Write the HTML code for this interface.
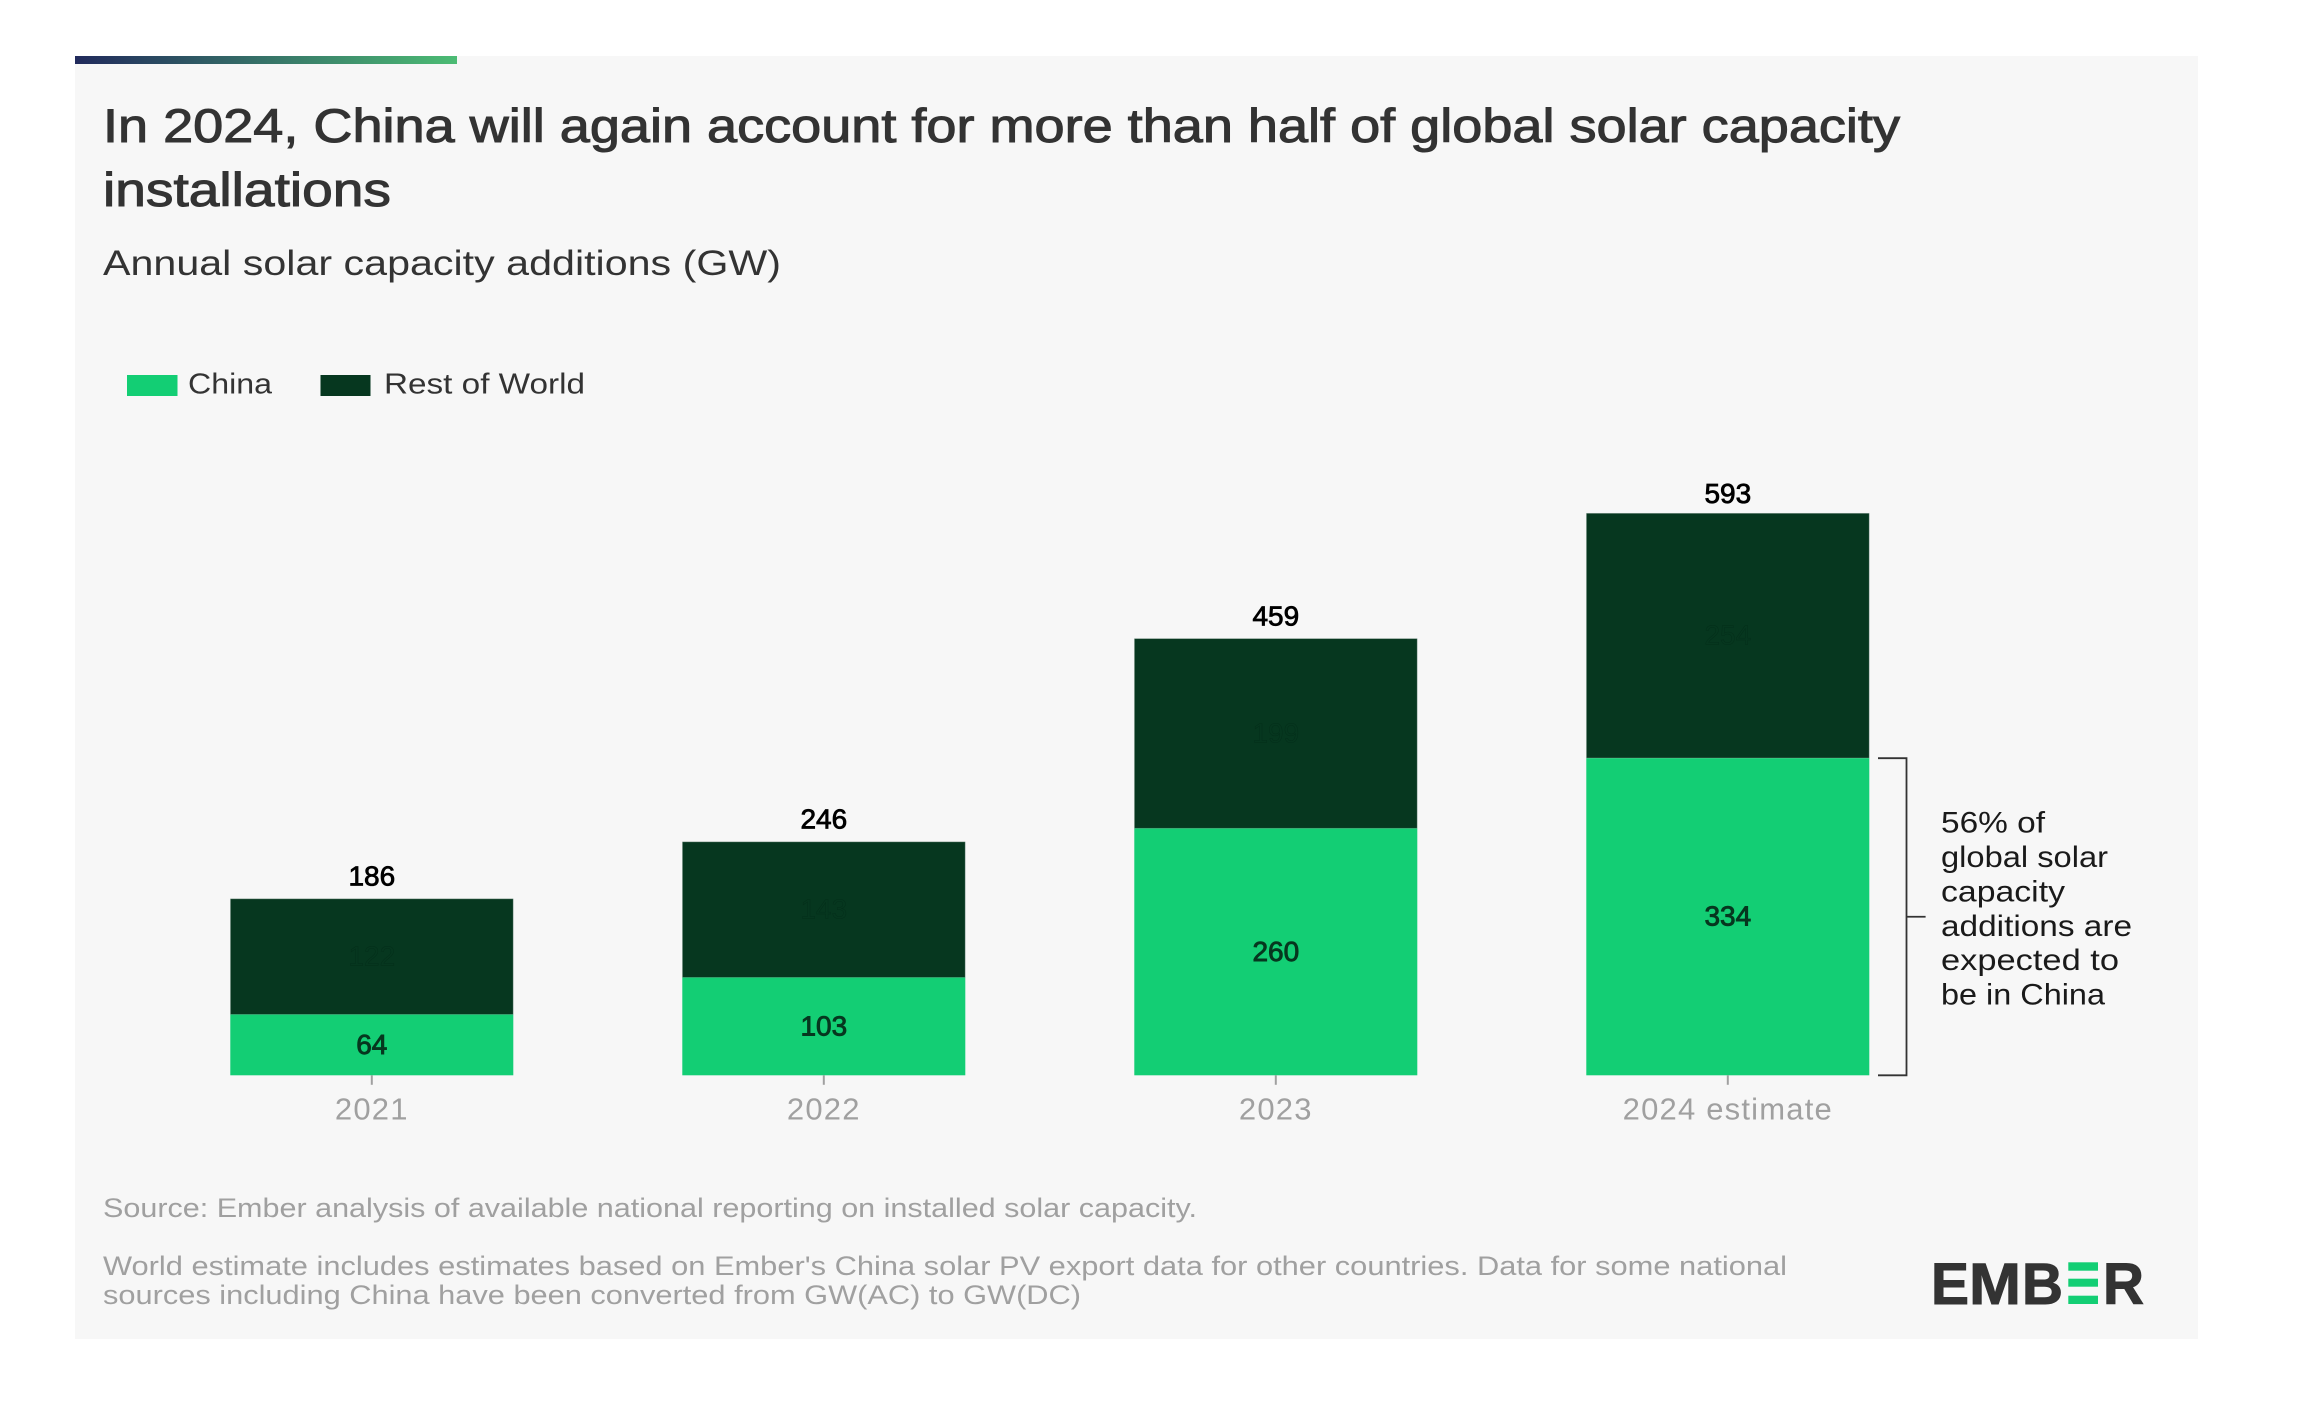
<!DOCTYPE html>
<html lang="en">
<head>
<meta charset="utf-8">
<title>In 2024, China will again account for more than half of global solar capacity installations</title>
<style>
html,body{margin:0;padding:0;background:#fff;}
svg{display:block;font-family:"Liberation Sans",sans-serif;}
</style>
</head>
<body>
<svg id="chart" xmlns="http://www.w3.org/2000/svg" width="2302" height="1422" viewBox="0 0 2302 1422">
  <defs>
    <linearGradient id="accent" x1="0" x2="1" y1="0" y2="0">
      <stop offset="0" stop-color="#212a5c"/>
      <stop offset="1" stop-color="#4cbc74"/>
    </linearGradient>
  </defs>
  <rect x="0" y="0" width="2302" height="1422" fill="#ffffff"/>
  <rect x="75" y="56" width="2123" height="1283" fill="#f7f7f7"/>
  <rect x="75" y="56" width="382" height="8" fill="url(#accent)"/>

  <text x="103" y="142" font-size="47" fill="#333333" stroke="#333333" stroke-width="1" textLength="1797" lengthAdjust="spacingAndGlyphs">In 2024, China will again account for more than half of global solar capacity</text>
  <text x="103" y="206" font-size="47" fill="#333333" stroke="#333333" stroke-width="1" textLength="288" lengthAdjust="spacingAndGlyphs">installations</text>
  <text x="103" y="275" font-size="35" fill="#333333" textLength="678" lengthAdjust="spacingAndGlyphs">Annual solar capacity additions (GW)</text>

  <g>
    <rect x="127" y="375" width="50.5" height="21" fill="#13ce74"/>
    <text x="188" y="393.5" font-size="29" fill="#333333" textLength="84" lengthAdjust="spacingAndGlyphs">China</text>
    <rect x="320.5" y="375" width="50" height="21" fill="#06371f"/>
    <text x="384" y="393.5" font-size="29" fill="#333333" textLength="201" lengthAdjust="spacingAndGlyphs">Rest of World</text>
  </g>

  <g id="plot"></g>

  <g id="annotation">
    <path id="bracket" fill="none" stroke="#333333" stroke-width="1.8"/>
    <g font-size="29.5" fill="#1a1a1a">
      <text x="1941" y="832.7" textLength="104" lengthAdjust="spacingAndGlyphs">56% of</text>
      <text x="1941" y="867" textLength="167" lengthAdjust="spacingAndGlyphs">global solar</text>
      <text x="1941" y="901.5" textLength="124" lengthAdjust="spacingAndGlyphs">capacity</text>
      <text x="1941" y="936" textLength="191" lengthAdjust="spacingAndGlyphs">additions are</text>
      <text x="1941" y="970" textLength="178" lengthAdjust="spacingAndGlyphs">expected to</text>
      <text x="1941" y="1004.5" textLength="164" lengthAdjust="spacingAndGlyphs">be in China</text>
    </g>
  </g>

  <g font-size="27" fill="#a0a0a0">
    <text x="103" y="1217" textLength="1094" lengthAdjust="spacingAndGlyphs">Source: Ember analysis of available national reporting on installed solar capacity.</text>
    <text x="103" y="1275" textLength="1684" lengthAdjust="spacingAndGlyphs">World estimate includes estimates based on Ember's China solar PV export data for other countries. Data for some national</text>
    <text x="103" y="1304" textLength="978" lengthAdjust="spacingAndGlyphs">sources including China have been converted from GW(AC) to GW(DC)</text>
  </g>

  <g font-size="58" font-weight="700" fill="#333333" stroke="#333333" stroke-width="1">
    <text x="1931" y="1304" textLength="38" lengthAdjust="spacingAndGlyphs">E</text>
    <text x="1969" y="1304" textLength="52" lengthAdjust="spacingAndGlyphs">M</text>
    <text x="2022" y="1304" textLength="41" lengthAdjust="spacingAndGlyphs">B</text>
    <rect x="2068.3" y="1262.3" width="29.7" height="8.4" fill="#13ce74" stroke="none"/>
    <rect x="2068.3" y="1278.7" width="29.7" height="8" fill="#13ce74" stroke="none"/>
    <rect x="2068.3" y="1295.7" width="29.7" height="8.3" fill="#13ce74" stroke="none"/>
    <text x="2103" y="1304" textLength="41" lengthAdjust="spacingAndGlyphs">R</text>
  </g>
</svg>

<script>
const categories = ["2021", "2022", "2023", "2024 estimate"];
const chinaValues = [64, 103, 260, 334];
const restValues = [122, 143, 200, 258];
const restLabels = ["122", "143", "199", "254"];
const totalLabels = ["186", "246", "459", "593"];

const SVG_NS = "http://www.w3.org/2000/svg";
const plot = document.getElementById("plot");
const baseY = 1075.3;
const pxPerGW = 0.9495;
const firstCenter = 371.8;
const bandStep = 452;
const barWidth = 283;

function yScale(v) { return baseY - v * pxPerGW; }
function xScale(i) { return firstCenter + i * bandStep; }

function make(tag, attrs, text) {
  const el = document.createElementNS(SVG_NS, tag);
  for (const k in attrs) el.setAttribute(k, attrs[k]);
  if (text !== undefined) el.textContent = text;
  plot.appendChild(el);
  return el;
}

categories.forEach(function (cat, i) {
  const cx = xScale(i);
  const chinaTop = yScale(chinaValues[i]);
  const stackTop = yScale(chinaValues[i] + restValues[i]);

  const rest = make("rect", { x: cx - barWidth / 2, y: stackTop, width: barWidth, height: chinaTop - stackTop, fill: "#06371f", stroke: "#f7f7f7", "stroke-opacity": 0.3, "stroke-width": 1 });
  
  

  const china = make("rect", { x: cx - barWidth / 2, y: chinaTop, width: barWidth, height: baseY - chinaTop, fill: "#13ce74" });
  
  

  const tick = make("line", { x1: cx, x2: cx, y1: baseY, y2: baseY + 9.5, stroke: "#a0a0a0", "stroke-width": 2 });
  
  

  const axisLabel = make("text", { x: cx, y: 1119.5, "text-anchor": "middle", "font-size": 31, "letter-spacing": 1.2, fill: "#a0a0a0" }, cat);
  
  

  const chinaLabel = make("text", { x: cx, y: (chinaTop + baseY) / 2 + 9, "text-anchor": "middle", "font-size": 28, fill: "#06371f", stroke: "#06371f", "stroke-width": 0.9 }, String(chinaValues[i]));
  
  

  const restLabel = make("text", { x: cx, y: (stackTop + chinaTop) / 2 + 9, "text-anchor": "middle", "font-size": 28, fill: "#06371f", stroke: "#042e1a", "stroke-width": 0.5 }, restLabels[i]);
  
  

  const totalGap = i === categories.length - 1 ? 10 : 13;
  const totalLabel = make("text", { x: cx, y: stackTop - totalGap, "text-anchor": "middle", "font-size": 28, fill: "#000000", stroke: "#000000", "stroke-width": 0.8 }, totalLabels[i]);
  
  
});

const lastChinaTop = yScale(chinaValues[chinaValues.length - 1]);
const bracketMid = (lastChinaTop + baseY) / 2;
document.getElementById("bracket").setAttribute("d",
  "M1878 " + lastChinaTop + "H1906.5V" + baseY + "H1878M1906.5 " + bracketMid + "H1925.6");
</script>
</body>
</html>
